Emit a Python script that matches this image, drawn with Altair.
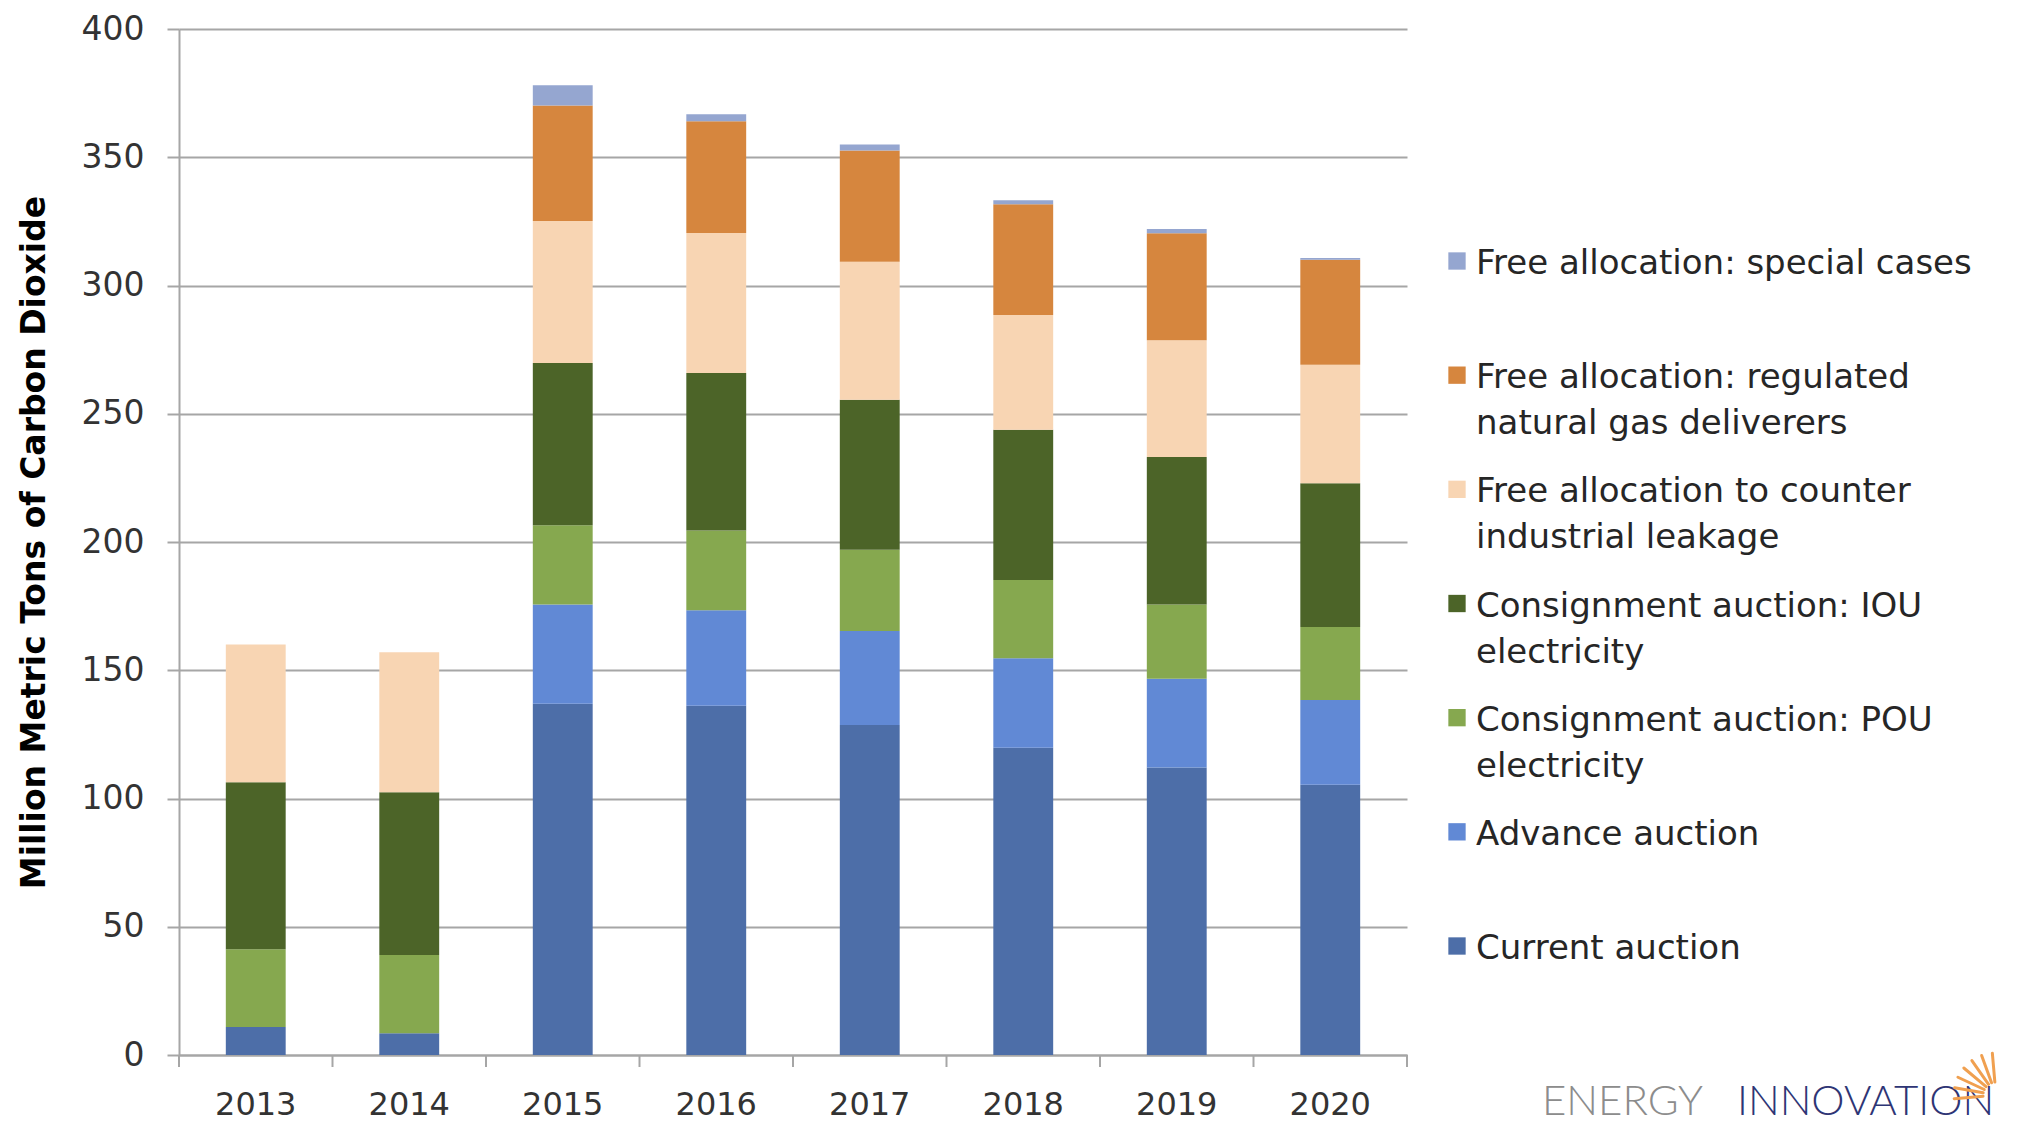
import math
import altair as alt
import pandas as pd

years = ["2013", "2014", "2015", "2016", "2017", "2018", "2019", "2020"]

categories = [
    "Current auction",
    "Advance auction",
    "Consignment auction: POU electricity",
    "Consignment auction: IOU electricity",
    "Free allocation to counter industrial leakage",
    "Free allocation: regulated natural gas deliverers",
    "Free allocation: special cases",
]
legend_labels = [
    "Current auction",
    "Advance auction",
    "Consignment auction: POU\nelectricity",
    "Consignment auction: IOU\nelectricity",
    "Free allocation to counter\nindustrial leakage",
    "Free allocation: regulated\nnatural gas deliverers",
    "Free allocation: special cases",
]
colors = ["#4D6EA8", "#6189D5", "#86A84F", "#4C6428", "#F8D5B3", "#D6863E", "#95A6D0"]

current = [10.9, 8.5, 136.9, 136.2, 128.7, 119.8, 112.1, 105.4]
advance = [0, 0, 38.7, 37.2, 36.6, 34.9, 34.6, 33.0]
pou = [30.3, 30.5, 30.9, 31.1, 31.7, 30.5, 28.9, 28.5]
iou = [65.1, 63.4, 63.3, 61.4, 58.5, 58.6, 57.5, 56.0]
leakage = [53.7, 54.6, 55.3, 54.6, 53.8, 44.7, 45.6, 46.2]
gas = [0, 0, 45.1, 43.5, 43.3, 43.2, 41.7, 40.9]
special = [0, 0, 7.9, 2.8, 2.4, 1.5, 1.6, 0.7]

series = [current, advance, pou, iou, leakage, gas, special]

rows = []
for i, (cat, vals) in enumerate(zip(categories, series)):
    for y, v in zip(years, vals):
        if v > 0:
            rows.append({"year": y, "category": cat, "value": v, "idx": i})
df = pd.DataFrame(rows)

FONT = "DejaVu Sans"
W, H = 1228, 1026
GRID = "#A6A6A6"

color_scale = alt.Scale(domain=categories, range=colors)
x_enc = alt.X(
    "year:N",
    sort=years,
    scale=alt.Scale(paddingInner=0, paddingOuter=0),
    axis=alt.Axis(
        title=None,
        labelAngle=0,
        ticks=False,
        tickSize=0,
        labelFont=FONT,
        labelFontSize=32,
        labelColor="#333333",
        labelPadding=34,
        domainColor=GRID,
        domainWidth=2,
        grid=False,
    ),
)

bars = alt.Chart(df).mark_bar(width=alt.RelativeBandSize(0.39)).encode(
    x=x_enc,
    y=alt.Y(
        "value:Q",
        stack="zero",
        scale=alt.Scale(domain=[0, 400], nice=False),
        axis=alt.Axis(
            title="Million Metric Tons of Carbon Dioxide",
            values=[0, 50, 100, 150, 200, 250, 300, 350, 400],
            grid=True,
            gridColor=GRID,
            gridWidth=2,
            domainColor=GRID,
            domainWidth=2,
            tickColor=GRID,
            tickWidth=2,
            tickSize=12,
            labelFont=FONT,
            labelFontSize=33,
            labelColor="#333333",
            labelPadding=23,
            titleFont=FONT,
            titleFontSize=33,
            titleFontWeight="bold",
            titleColor="#000000",
            titlePadding=30,
        ),
    ),
    color=alt.Color("category:N", scale=color_scale, legend=None),
    order=alt.Order("idx:Q", sort="ascending"),
)

tick_df = pd.DataFrame({"year": years})
ticks_left = alt.Chart(tick_df).mark_rule(color=GRID, strokeWidth=2).encode(
    x=alt.X("year:N", sort=years, bandPosition=0),
    y=alt.value(H),
    y2=alt.value(H + 12),
)
ticks_right = alt.Chart(pd.DataFrame({"year": [years[-1]]})).mark_rule(
    color=GRID, strokeWidth=2
).encode(
    x=alt.X("year:N", sort=years, bandPosition=1),
    y=alt.value(H),
    y2=alt.value(H + 12),
)

main = alt.layer(bars, ticks_left, ticks_right).properties(width=W, height=H)

# manual legend
leg_df = pd.DataFrame({"category": categories, "label": legend_labels})
leg_order = list(reversed(categories))
leg_y = alt.Y(
    "category:N",
    sort=leg_order,
    scale=alt.Scale(type="point", range=[232, 917], padding=0),
    axis=None,
)
squares = alt.Chart(leg_df).mark_square(size=300, opacity=1).encode(
    x=alt.value(9),
    y=leg_y,
    color=alt.Color("category:N", scale=color_scale, legend=None),
)
texts = alt.Chart(leg_df).mark_text(
    align="left",
    baseline="alphabetic",
    dy=13,
    lineBreak="\n",
    lineHeight=46,
    font=FONT,
    fontSize=34,
    color="#262626",
).encode(x=alt.value(28), y=leg_y, text="label:N")

logo1 = alt.Chart(pd.DataFrame({"t": ["ENERGY"]})).mark_text(
    align="left", baseline="middle", font="Lato", fontWeight=300, fontSize=42, color="#8C8C8C"
).encode(x=alt.value(94), y=alt.value(1073), text="t:N")
logo2 = alt.Chart(pd.DataFrame({"t": ["INNOVATION"]})).mark_text(
    align="left", baseline="middle", font="Lato", fontWeight=300, fontSize=42, color="#2E3575"
).encode(x=alt.value(289), y=alt.value(1073), text="t:N")

# logo sun rays (decoration), kept inside the page width
ray_angles = [95, 110, 125, 140, 155, 170, 185]
cx, cy = 548, 1066
rays = pd.DataFrame(
    {
        "x1": [cx + 13 * math.cos(math.radians(a)) for a in ray_angles],
        "y1": [cy - 13 * math.sin(math.radians(a)) for a in ray_angles],
        "x2": [cx + 42 * math.cos(math.radians(a)) for a in ray_angles],
        "y2": [cy - 42 * math.sin(math.radians(a)) for a in ray_angles],
    }
)
sun = alt.Chart(rays).mark_rule(color="#F0A050", strokeWidth=3, strokeCap="round").encode(
    x=alt.X("x1:Q", scale=None, axis=None),
    x2="x2:Q",
    y=alt.Y("y1:Q", scale=None, axis=None),
    y2="y2:Q",
)

legend_chart = alt.layer(squares, texts, logo1, logo2, sun).properties(width=500, height=H)

chart = (
    alt.hconcat(main, legend_chart, spacing=40)
    .resolve_scale(x="independent", y="independent", color="shared")
    .properties(padding={"left": 10, "top": 5, "right": 0, "bottom": 0})
    .configure_view(stroke=None)
)

chart.save("out.html", embed_options={"renderer": "svg", "actions": False})
